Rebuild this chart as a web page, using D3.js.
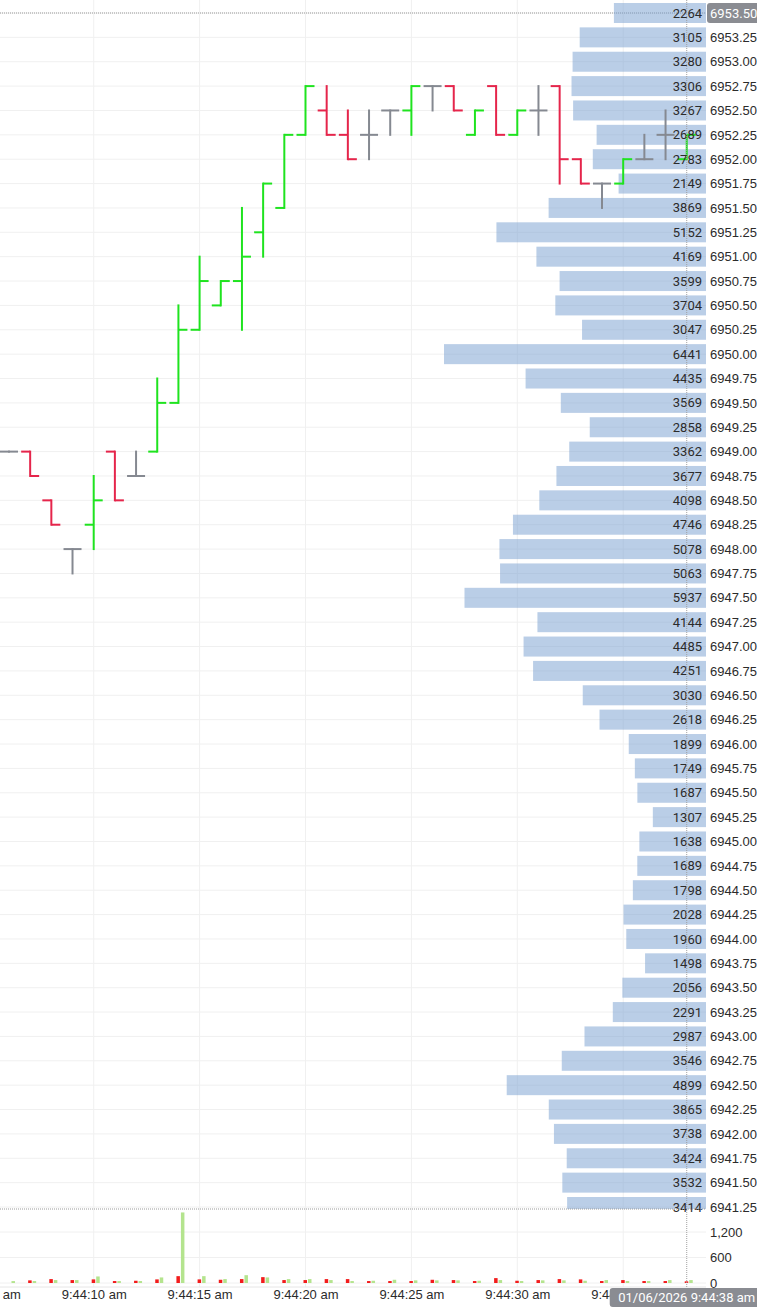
<!DOCTYPE html>
<html>
<head>
<meta charset="utf-8">
<script src="https://cdn.jsdelivr.net/npm/d3@7/dist/d3.min.js"></script>
<style>
body { margin: 0; background: #fff; }
svg { display: block; font-family: Roboto, "Noto Sans", sans-serif; }
.axis text { fill: #2b2b2b; font-size: 13px; }
.axis path { display: none; }
.grid { stroke: #f0f0f0; stroke-width: 1; }
.count { fill: #2b2b2b; font-size: 13px; }
</style>
</head>
<body>
<div id="chart"></div>
<script>
// one bar per second, 9:44:06 .. 9:44:38 on 01/06/2026

var barSeconds = [6, 7, 8, 9, 10, 11, 12, 13, 14, 15, 16, 17, 18, 19, 20, 21, 22,
    23, 24, 25, 26, 27, 28, 29, 30, 31, 32, 33, 34, 35, 36, 37, 38];

var opens = [6949.00, 6949.00, 6948.50, 6948.00, 6948.25, 6949.00, 6948.75, 6949.00, 6949.50,
    6950.25, 6950.50, 6950.75, 6951.25, 6951.50, 6952.25, 6952.50, 6952.25, 6952.25, 6952.50,
    6952.50, 6952.75, 6952.75, 6952.25, 6952.75, 6952.25, 6952.50, 6952.75, 6952.00, 6951.75,
    6951.75, 6952.00, 6952.25, 6952.00];
var highs = [6949.00, 6949.00, 6948.50, 6948.00, 6948.75, 6949.00, 6949.00, 6949.75, 6950.50,
    6951.00, 6950.75, 6951.50, 6951.75, 6952.25, 6952.75, 6952.75, 6952.50, 6952.50, 6952.50,
    6952.75, 6952.75, 6952.75, 6952.50, 6952.75, 6952.50, 6952.75, 6952.75, 6952.00, 6951.75,
    6952.00, 6952.25, 6952.50, 6952.25];
var lows = [6949.00, 6948.75, 6948.25, 6947.75, 6948.00, 6948.50, 6948.75, 6949.00, 6949.50,
    6950.25, 6950.50, 6950.25, 6951.00, 6951.50, 6952.25, 6952.25, 6952.00, 6952.00, 6952.25,
    6952.25, 6952.50, 6952.50, 6952.25, 6952.25, 6952.25, 6952.25, 6951.75, 6951.75, 6951.50,
    6951.75, 6952.00, 6952.00, 6952.00];
var closes = [6949.00, 6948.75, 6948.25, 6948.00, 6948.50, 6948.50, 6948.75, 6949.50, 6950.25,
    6950.75, 6950.75, 6951.00, 6951.75, 6952.25, 6952.75, 6952.25, 6952.00, 6952.25, 6952.50,
    6952.75, 6952.75, 6952.50, 6952.50, 6952.25, 6952.50, 6952.50, 6952.00, 6951.75, 6951.75,
    6952.00, 6952.00, 6952.25, 6952.25];

var sellVolume = [0, 62, 92, 69, 85, 46, 53, 85, 161, 85, 76, 92, 138, 69, 69, 92, 92,
    46, 46, 46, 76, 69, 46, 115, 53, 69, 92, 85, 46, 69, 46, 46, 39];
var buyVolume = [45, 46, 69, 69, 154, 46, 46, 131, 1660, 161, 92, 184, 131, 92, 92, 69, 46,
    53, 76, 62, 62, 62, 53, 69, 46, 62, 62, 53, 69, 46, 46, 69, 69];

// volume at price
var profilePrices = [6953.50, 6953.25, 6953.00, 6952.75, 6952.50, 6952.25, 6952.00, 6951.75,
    6951.50, 6951.25, 6951.00, 6950.75, 6950.50, 6950.25, 6950.00, 6949.75, 6949.50, 6949.25,
    6949.00, 6948.75, 6948.50, 6948.25, 6948.00, 6947.75, 6947.50, 6947.25, 6947.00, 6946.75,
    6946.50, 6946.25, 6946.00, 6945.75, 6945.50, 6945.25, 6945.00, 6944.75, 6944.50, 6944.25,
    6944.00, 6943.75, 6943.50, 6943.25, 6943.00, 6942.75, 6942.50, 6942.25, 6942.00, 6941.75,
    6941.50, 6941.25];
var profileCounts = [2264, 3105, 3280, 3306, 3267, 2689, 2783, 2149, 3869, 5152, 4169, 3599,
    3704, 3047, 6441, 4435, 3569, 2858, 3362, 3677, 4098, 4746, 5078, 5063, 5937, 4144, 4485,
    4251, 3030, 2618, 1899, 1749, 1687, 1307, 1638, 1689, 1798, 2028, 1960, 1498, 2056, 2291,
    2987, 3546, 4899, 3865, 3738, 3424, 3532, 3414];

var volumeTicks = [0, 600, 1200];
var timeTickSeconds = [5, 10, 15, 20, 25, 30, 35];

var crosshairPrice = 6953.50;
var crosshairSecond = 38;

// layout

var width = 757,
    height = 1313,
    plotRight = 706,
    mainBottom = 1209,
    axisLineY = 1287;

function atSecond(s, ms) { return new Date(2026, 0, 6, 9, 44, s, ms || 0); }

var x = d3.scaleTime()
    .domain([atSecond(5, 576), atSecond(38, 910)])
    .range([0, plotRight]);

var y = d3.scaleLinear()
    .domain([6941.25, 6953.50])
    .range([1207, 13]);

var yVol = d3.scaleLinear()
    .domain([0, 1200])
    .range([1283, 1232]);

var xProfile = d3.scaleLinear()
    .domain([0, d3.max(profileCounts)])
    .range([0, 262]);

var bars = barSeconds.map(function(s, i) {
    return { t: atSecond(s), open: opens[i], high: highs[i], low: lows[i], close: closes[i],
             sell: sellVolume[i], buy: buyVolume[i] };
});

var timeTicks = timeTickSeconds.map(function(s) { return atSecond(s); });

function barColor(d) {
    if (d.close > d.open) return "#1fe31f";
    if (d.close < d.open) return "#e5254b";
    return "#858991";
}

var svg = d3.select("#chart").append("svg")
    .attr("width", width)
    .attr("height", height);

svg.append("rect").attr("width", width).attr("height", height).attr("fill", "#fff");

svg.append("defs").append("clipPath").attr("id", "main-clip")
    .append("rect").attr("x", 0).attr("y", 0).attr("width", plotRight).attr("height", mainBottom);

// grid lines

svg.append("g").selectAll("line")
    .data(profilePrices)
    .enter().append("line")
    .attr("class", "grid")
    .attr("x1", 0).attr("x2", plotRight)
    .attr("y1", function(d) { return y(d); })
    .attr("y2", function(d) { return y(d); });

svg.append("g").selectAll("line")
    .data(timeTicks)
    .enter().append("line")
    .attr("class", "grid")
    .attr("x1", function(d) { return x(d); })
    .attr("x2", function(d) { return x(d); })
    .attr("y1", 0).attr("y2", axisLineY);

svg.append("g").selectAll("line")
    .data(volumeTicks)
    .enter().append("line")
    .attr("class", "grid")
    .attr("x1", 0).attr("x2", plotRight)
    .attr("y1", function(d) { return yVol(d); })
    .attr("y2", function(d) { return yVol(d); });

// crosshair horizontal
svg.append("line")
    .attr("x1", 0).attr("x2", plotRight)
    .attr("y1", y(crosshairPrice)).attr("y2", y(crosshairPrice))
    .attr("stroke", "#9a9a9a")
    .attr("stroke-dasharray", "1,1");

// volume profile

var main = svg.append("g").attr("clip-path", "url(#main-clip)");

main.selectAll(".profile")
    .data(profilePrices)
    .enter().append("rect")
    .attr("class", "profile")
    .attr("x", function(d, i) { return plotRight - xProfile(profileCounts[i]); })
    .attr("width", function(d, i) { return xProfile(profileCounts[i]); })
    .attr("y", function(d) { return y(d) - 10; })
    .attr("height", 20)
    .attr("fill", "rgba(118, 157, 207, 0.5)");

svg.selectAll(".count")
    .data(profilePrices)
    .enter().append("text")
    .attr("class", "count")
    .attr("x", plotRight - 4)
    .attr("y", function(d) { return y(d); })
    .attr("dy", "0.35em")
    .style("text-anchor", "end")
    .text(function(d, i) { return profileCounts[i]; });

// ohlc bars: vertical high-low, open tick left, close tick right

var tick = 9;
var ohlc = main.selectAll(".ohlc")
    .data(bars)
    .enter().append("g")
    .attr("class", "ohlc")
    .attr("stroke", barColor)
    .attr("stroke-width", 2);

ohlc.append("line")
    .attr("x1", function(d) { return x(d.t); })
    .attr("x2", function(d) { return x(d.t); })
    .attr("y1", function(d) { return y(d.high) - 1; })
    .attr("y2", function(d) { return y(d.low) + 1; });

ohlc.append("line")
    .attr("x1", function(d) { return x(d.t) - tick; })
    .attr("x2", function(d) { return x(d.t); })
    .attr("y1", function(d) { return y(d.open); })
    .attr("y2", function(d) { return y(d.open); });

ohlc.append("line")
    .attr("x1", function(d) { return x(d.t); })
    .attr("x2", function(d) { return x(d.t) + tick; })
    .attr("y1", function(d) { return y(d.close); })
    .attr("y2", function(d) { return y(d.close); });

// volume bars, sell red left, buy green right

svg.selectAll(".sell")
    .data(bars)
    .enter().append("rect")
    .attr("class", "sell")
    .attr("x", function(d) { return x(d.t) - 2; })
    .attr("width", 3.5)
    .attr("y", function(d) { return yVol(d.sell); })
    .attr("height", function(d) { return yVol(0) - yVol(d.sell); })
    .attr("fill", "#f21c1c");

svg.selectAll(".buy")
    .data(bars)
    .enter().append("rect")
    .attr("class", "buy")
    .attr("x", function(d) { return x(d.t) + 2.5; })
    .attr("width", 3.5)
    .attr("y", function(d) { return yVol(d.buy); })
    .attr("height", function(d) { return yVol(0) - yVol(d.buy); })
    .attr("fill", "#b4e48e");

// pane separator and bottom line
svg.append("line")
    .attr("x1", 0).attr("x2", plotRight)
    .attr("y1", mainBottom).attr("y2", mainBottom)
    .attr("stroke", "#9a9a9a")
    .attr("stroke-dasharray", "1,1");

svg.append("line")
    .attr("x1", 0).attr("x2", plotRight)
    .attr("y1", axisLineY).attr("y2", axisLineY)
    .attr("stroke", "#e6e6e6");

// crosshair vertical
svg.append("line")
    .attr("x1", x(atSecond(crosshairSecond))).attr("x2", x(atSecond(crosshairSecond)))
    .attr("y1", 0).attr("y2", axisLineY)
    .attr("stroke", "#a0a0a0")
    .attr("stroke-dasharray", "1,1");

// axes

svg.append("g")
    .attr("class", "axis")
    .attr("transform", "translate(" + plotRight + ",0)")
    .call(d3.axisRight(y)
        .tickValues(profilePrices)
        .tickSize(0)
        .tickPadding(4)
        .tickFormat(d3.format(".2f")));

svg.append("g")
    .attr("class", "axis")
    .attr("transform", "translate(" + plotRight + ",0)")
    .call(d3.axisRight(yVol)
        .tickValues(volumeTicks)
        .tickSize(0)
        .tickPadding(4)
        .tickFormat(d3.format(",")));

var timeFormat = d3.timeFormat("%-I:%M:%S %p");

svg.append("g")
    .attr("class", "axis")
    .attr("transform", "translate(0," + axisLineY + ")")
    .call(d3.axisBottom(x)
        .tickValues(timeTicks)
        .tickSize(0)
        .tickPadding(3)
        .tickFormat(function(d) { return timeFormat(d).toLowerCase(); }));

// crosshair labels

svg.append("rect")
    .attr("x", plotRight + 1).attr("y", y(crosshairPrice) - 10)
    .attr("width", 56).attr("height", 20).attr("rx", 3)
    .attr("fill", "#8a8c92");
svg.append("text")
    .attr("x", plotRight + 4).attr("y", y(crosshairPrice))
    .attr("dy", "0.35em")
    .style("font-size", "13px")
    .attr("fill", "#fff")
    .text(d3.format(".2f")(crosshairPrice));

var cx = x(atSecond(crosshairSecond));
svg.append("rect")
    .attr("x", cx - 77).attr("y", axisLineY + 1)
    .attr("width", 154).attr("height", 19).attr("rx", 3)
    .attr("fill", "#8a8c92");
svg.append("text")
    .attr("x", cx).attr("y", axisLineY + 10.5)
    .attr("dy", "0.35em")
    .style("text-anchor", "middle")
    .style("font-size", "13px")
    .attr("fill", "#fff")
    .text(d3.timeFormat("%m/%d/%Y ")(atSecond(crosshairSecond)) + timeFormat(atSecond(crosshairSecond)).toLowerCase());
</script>
</body>
</html>
